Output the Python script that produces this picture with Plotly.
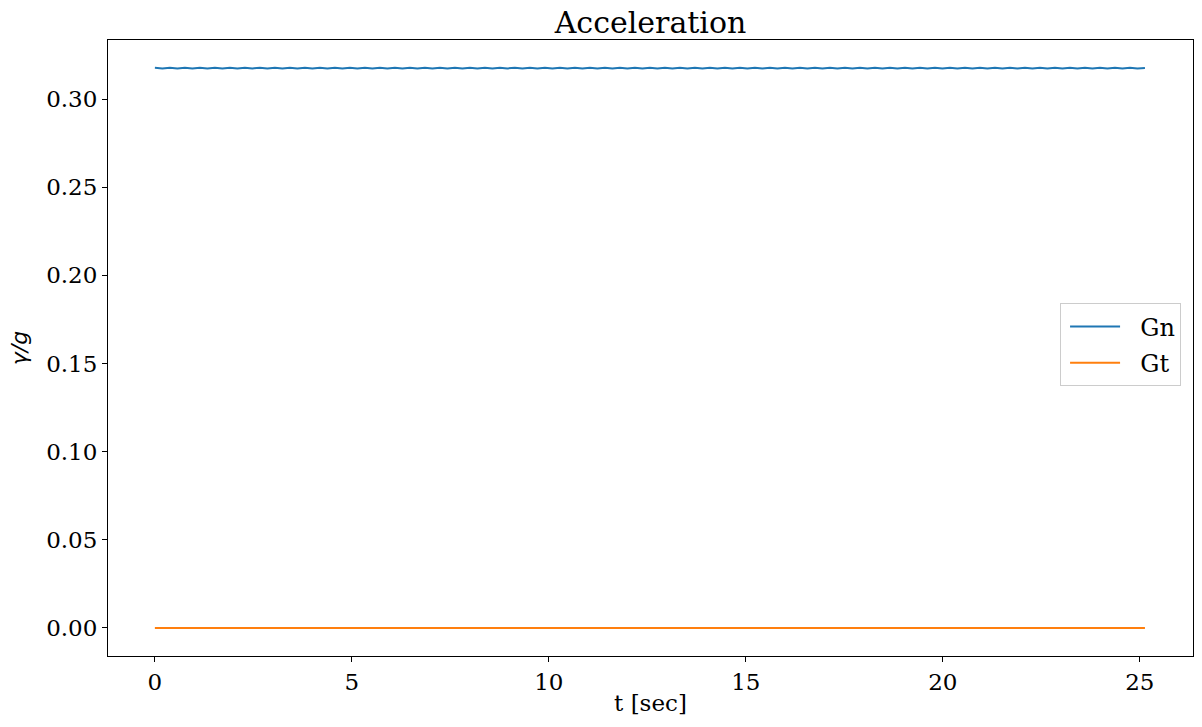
import numpy as np
import plotly.graph_objects as go

# time samples (sec)
t = np.linspace(0.0, 25.13, 133)

# normal acceleration / g (small ripple)
Gn = [
    0.3177, 0.3174, 0.3178, 0.3174, 0.3178, 0.3174, 0.3178, 0.3174, 0.3178, 0.3174,
    0.3178, 0.3174, 0.3178, 0.3174, 0.3178, 0.3174, 0.3178, 0.3174, 0.3178, 0.3174,
    0.3178, 0.3174, 0.3178, 0.3174, 0.3178, 0.3174, 0.3178, 0.3174, 0.3178, 0.3174,
    0.3178, 0.3174, 0.3178, 0.3174, 0.3178, 0.3174, 0.3178, 0.3174, 0.3178, 0.3174,
    0.3178, 0.3174, 0.3178, 0.3174, 0.3178, 0.3174, 0.3178, 0.3174, 0.3178, 0.3174,
    0.3178, 0.3174, 0.3178, 0.3174, 0.3178, 0.3174, 0.3178, 0.3174, 0.3178, 0.3174,
    0.3178, 0.3174, 0.3178, 0.3174, 0.3178, 0.3174, 0.3178, 0.3174, 0.3178, 0.3174,
    0.3178, 0.3174, 0.3178, 0.3174, 0.3178, 0.3174, 0.3178, 0.3174, 0.3178, 0.3174,
    0.3178, 0.3174, 0.3178, 0.3174, 0.3178, 0.3174, 0.3178, 0.3174, 0.3178, 0.3174,
    0.3178, 0.3174, 0.3178, 0.3174, 0.3178, 0.3174, 0.3178, 0.3174, 0.3178, 0.3174,
    0.3178, 0.3174, 0.3178, 0.3174, 0.3178, 0.3174, 0.3178, 0.3174, 0.3178, 0.3174,
    0.3178, 0.3174, 0.3178, 0.3174, 0.3178, 0.3174, 0.3178, 0.3174, 0.3178, 0.3174,
    0.3178, 0.3174, 0.3178, 0.3174, 0.3178, 0.3174, 0.3178, 0.3174, 0.3178, 0.3174,
    0.3178, 0.3174, 0.3176,
]

# tangential acceleration / g (essentially zero)
Gt = [
    0.00000, 0.00003, 0.00000, -0.00003, 0.00000, 0.00003, 0.00000, -0.00003, 0.00000, 0.00003,
    0.00000, -0.00003, 0.00000, 0.00003, 0.00000, -0.00003, 0.00000, 0.00003, 0.00000, -0.00003,
    0.00000, 0.00003, 0.00000, -0.00003, 0.00000, 0.00003, 0.00000, -0.00003, 0.00000, 0.00003,
    0.00000, -0.00003, 0.00000, 0.00003, 0.00000, -0.00003, 0.00000, 0.00003, 0.00000, -0.00003,
    0.00000, 0.00003, 0.00000, -0.00003, 0.00000, 0.00003, 0.00000, -0.00003, 0.00000, 0.00003,
    0.00000, -0.00003, 0.00000, 0.00003, 0.00000, -0.00003, 0.00000, 0.00003, 0.00000, -0.00003,
    0.00000, 0.00003, 0.00000, -0.00003, 0.00000, 0.00003, 0.00000, -0.00003, 0.00000, 0.00003,
    0.00000, -0.00003, 0.00000, 0.00003, 0.00000, -0.00003, 0.00000, 0.00003, 0.00000, -0.00003,
    0.00000, 0.00003, 0.00000, -0.00003, 0.00000, 0.00003, 0.00000, -0.00003, 0.00000, 0.00003,
    0.00000, -0.00003, 0.00000, 0.00003, 0.00000, -0.00003, 0.00000, 0.00003, 0.00000, -0.00003,
    0.00000, 0.00003, 0.00000, -0.00003, 0.00000, 0.00003, 0.00000, -0.00003, 0.00000, 0.00003,
    0.00000, -0.00003, 0.00000, 0.00003, 0.00000, -0.00003, 0.00000, 0.00003, 0.00000, -0.00003,
    0.00000, 0.00003, 0.00000, -0.00003, 0.00000, 0.00003, 0.00000, -0.00003, 0.00000, 0.00003,
    0.00000, -0.00003, 0.00000,
]

series_names = ["Gn", "Gt"]
x_ticks = [0, 5, 10, 15, 20, 25]
y_ticks = [0.00, 0.05, 0.10, 0.15, 0.20, 0.25, 0.30]

SERIF = "DejaVu Serif"
PAD = "&nbsp;&nbsp;"

fig = go.Figure()
fig.add_trace(go.Scatter(x=t, y=Gn, mode="lines", name=PAD + series_names[0],
                         legendgroup="a", line=dict(color="#1f77b4", width=2)))
fig.add_trace(go.Scatter(x=t, y=Gt, mode="lines", name=PAD + series_names[1],
                         legendgroup="b", line=dict(color="#ff7f0e", width=2)))

axis_common = dict(
    showline=True, linecolor="black", linewidth=1, mirror=True,
    ticks="outside", ticklen=5, tickwidth=1, tickcolor="black",
    showgrid=False, zeroline=False, automargin=False,
    tickfont=dict(family=SERIF, size=23, color="black"),
)

fig.update_layout(
    width=1202, height=727,
    margin=dict(l=108, r=9, t=40, b=71),
    paper_bgcolor="white", plot_bgcolor="white",
    title=dict(text="Acceleration", x=0.5, xref="paper", xanchor="center",
               y=1 - 22 / 727, yref="container", yanchor="middle",
               font=dict(family=SERIF, size=30, color="black"),
               automargin=False),
    xaxis=dict(axis_common, range=[-1.19, 26.35], tickvals=x_ticks,
               ticktext=[str(v) for v in x_ticks],
               title=dict(text="t [sec]", standoff=1,
                          font=dict(family=SERIF, size=23, color="black"))),
    yaxis=dict(axis_common, range=[-0.0159, 0.3335], tickvals=y_ticks,
               ticktext=[f"{v:.2f}" for v in y_ticks],
               title=dict(text="<i>γ/g</i>", standoff=12,
                          font=dict(family="DejaVu Sans", size=22, color="black"))),
    legend=dict(x=0.989, y=0.505, xanchor="right", yanchor="middle",
                bgcolor="white", bordercolor="#cccccc", borderwidth=1,
                font=dict(family=SERIF, size=24, color="black"),
                tracegroupgap=2, itemwidth=50, indentation=4),
    showlegend=True,
)

fig.write_html("out.html", config={"displayModeBar": False},
               post_script="document.body.style.margin='0';")
